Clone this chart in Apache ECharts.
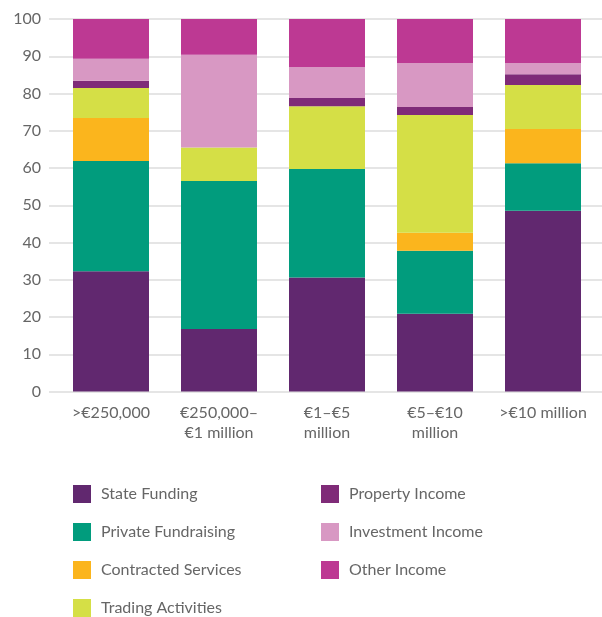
<!DOCTYPE html>
<html>
<head>
    <meta charset="utf-8">
    <title>Income by size</title>
    <script src="https://cdn.jsdelivr.net/npm/echarts@6/dist/echarts.min.js"></script>
    <style>
        html, body { margin: 0; padding: 0; background: #fff; }
        #chart { width: 602px; height: 617px; }
    </style>
</head>
<body>
<div id="chart"></div>
<script type="text/javascript">
    // categories (income bands)
    var categories = ['>€250,000', '€250,000–\n€1 million', '€1–€5\nmillion', '€5–€10\nmillion', '>€10 million'];
    var yTicks = [0, 10, 20, 30, 40, 50, 60, 70, 80, 90, 100];

    // share of income, % per band
    var stateFunding       = [32.3, 16.8, 30.6, 20.9, 48.5];
    var privateFundraising = [29.6, 39.7, 29.1, 16.9, 12.8];
    var contractedServices = [11.5, 0,    0,    4.8,  9.2];
    var tradingActivities  = [8.1,  9.0,  16.9, 31.6, 11.8];
    var propertyIncome     = [1.9,  0,    2.2,  2.2,  2.9];
    var investmentIncome   = [5.9,  24.9, 8.3,  11.8, 3.0];
    var otherIncome        = [10.7, 9.6,  12.9, 11.8, 11.8];

    var names = ['State Funding', 'Private Fundraising', 'Contracted Services', 'Trading Activities',
                 'Property Income', 'Investment Income', 'Other Income'];
    var values = [stateFunding, privateFundraising, contractedServices, tradingActivities,
                  propertyIncome, investmentIncome, otherIncome];
    var colors = ['#61286f', '#019c7d', '#fbb51d', '#d5df46', '#7f2b78', '#d898c3', '#bd3993'];

    var font = 'Lato, "Open Sans", sans-serif';

    var series = names.map(function (n, i) {
        return {
            name: n,
            type: 'bar',
            stack: 'total',
            xAxisIndex: 1,
            yAxisIndex: 1,
            barWidth: 76,
            itemStyle: { color: colors[i] },
            data: values[i]
        };
    });

    function makeLegend(items, left) {
        return {
            data: items,
            orient: 'vertical',
            left: left,
            top: 485,
            height: 200,
            padding: 0,
            icon: 'rect',
            itemWidth: 18,
            itemHeight: 18,
            itemGap: 20,
            textStyle: { color: '#666', fontSize: 16, fontFamily: font, padding: [0, 0, 0, 5] },
            selectedMode: false
        };
    }

    var myChart = echarts.init(document.getElementById('chart'));
    myChart.setOption({
        animation: false,
        textStyle: { fontFamily: font },
        grid: [
            // wide grid: gridlines + y labels
            { left: 49, right: 0, top: 19, bottom: 225.5 },
            // bars
            { left: 57, right: 5, top: 19, bottom: 225.5 }
        ],
        xAxis: [
            { gridIndex: 0, type: 'value', show: false },
            {
                gridIndex: 1,
                type: 'category',
                data: categories,
                axisLine: { show: false },
                axisTick: { show: false },
                axisLabel: { interval: 0, color: '#666', fontSize: 16, lineHeight: 20, margin: 11, fontFamily: font }
            }
        ],
        yAxis: [
            {
                gridIndex: 0,
                type: 'value',
                min: yTicks[0],
                max: yTicks[yTicks.length - 1],
                interval: 10,
                axisLine: { show: false },
                axisTick: { show: false },
                axisLabel: { color: '#666', fontSize: 16, margin: 8, fontFamily: font },
                splitLine: { lineStyle: { color: '#dcdcdc', width: 1.5 } }
            },
            { gridIndex: 1, type: 'value', min: 0, max: 100, show: false, splitLine: { show: false } }
        ],
        legend: [
            makeLegend(names.slice(0, 4), 73),
            makeLegend(names.slice(4), 321)
        ],
        series: series
    });
</script>
</body>
</html>
